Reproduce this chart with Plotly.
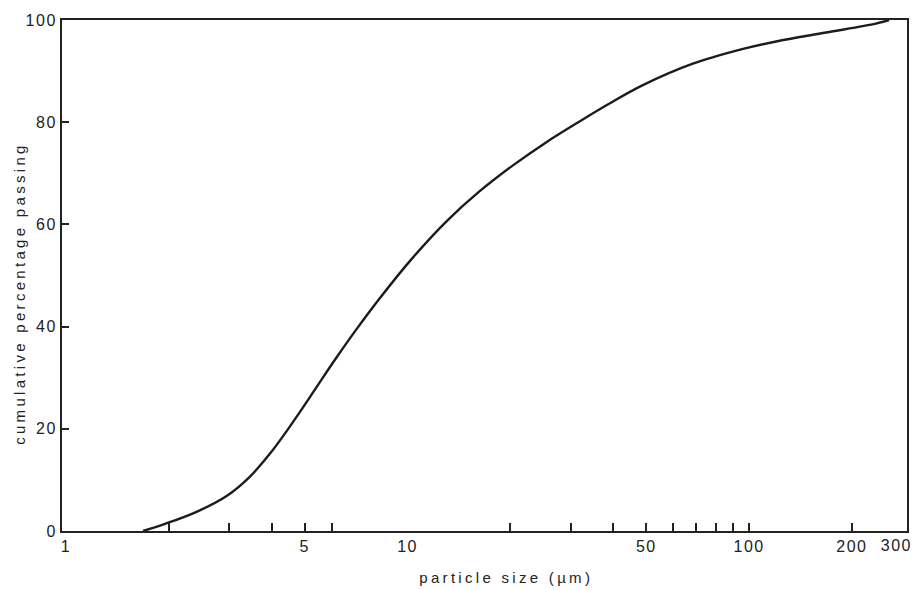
import math
import plotly.graph_objects as go

# particle size (µm) and cumulative percentage passing
size_um = [1.68, 1.95, 2.42, 2.96, 3.45, 3.95, 4.43, 4.93, 5.53, 6.20, 7.09, 8.28,
           10.3, 13.0, 16.2, 20.3, 25.5, 31.8, 38.9, 48.7, 68.1, 95.4, 120, 168, 235, 257]
passing = [0, 1.4, 3.8, 6.9, 10.6, 15.1, 19.6, 24.1, 29.1, 34.0, 39.5, 45.5,
           53.3, 60.6, 66.4, 71.5, 76.1, 80.1, 83.6, 87.2, 91.4, 94.3, 95.8, 97.55, 99.3, 100]

x_label_vals = [1, 5, 10, 50, 100, 200, 300]
x_label_text = ["1", "5", "10", "50", "100", "200", "300"]
x_mark_vals = [2, 3, 4, 5, 6, 20, 30, 40, 50, 60, 70, 80, 90, 100, 200]
y_tick_vals = [0, 20, 40, 60, 80, 100]
y_tick_text = ["0", "20", "40", "60", "80", "100"]

x_title = "particle size (µm)"
y_title = "cumulative percentage passing"

INK = "#222222"
FONT = "Liberation Sans, Arial, sans-serif"

X_MIN, X_MAX = 0.973, 290.0
# the last label (300) sits at the right frame edge; the rest are ordinary tick labels
in_range = [(v, t) for v, t in zip(x_label_vals, x_label_text) if v <= X_MAX]
edge = [(v, t) for v, t in zip(x_label_vals, x_label_text) if v > X_MAX]

fig = go.Figure()
fig.add_trace(go.Scatter(
    x=size_um, y=passing, mode="lines",
    line=dict(color="#1c1c1c", width=2.4, shape="spline", smoothing=1.0),
    hoverinfo="skip", showlegend=False,
))

annotations = [
    dict(text=x_title, xref="paper", yref="paper", x=0.526, y=-0.0916,
         xanchor="center", yanchor="middle", showarrow=False,
         font=dict(family=FONT, size=15, color=INK)),
    dict(text=y_title, xref="paper", yref="paper", x=-0.0496, y=0.464,
         xanchor="center", yanchor="middle", showarrow=False, textangle=-90,
         font=dict(family=FONT, size=15, color=INK)),
]
for v, t in edge:
    annotations.append(dict(text=t, xref="paper", yref="paper", x=1.0, y=0,
                            xanchor="center", yanchor="top", yshift=-4, xshift=-11,
                            showarrow=False, font=dict(family=FONT, size=16, color=INK)))

fig.update_layout(
    width=921, height=590, autosize=False,
    margin=dict(l=62, r=13, t=18, b=59),
    paper_bgcolor="white", plot_bgcolor="white",
    font=dict(family=FONT, size=16, color=INK),
    xaxis=dict(
        type="log", range=[math.log10(X_MIN), math.log10(X_MAX)],
        tickmode="array", tickvals=[v for v, _ in in_range], ticktext=[t for _, t in in_range],
        ticks="", showgrid=False, zeroline=False,
        showline=True, linecolor=INK, linewidth=2, mirror=True,
        tickfont=dict(family=FONT, size=16, color=INK),
        minor=dict(tickmode="array", tickvals=x_mark_vals, ticks="inside",
                   ticklen=8, tickwidth=1.6, tickcolor=INK, showgrid=False),
    ),
    yaxis=dict(
        range=[0, 100], tickmode="array", tickvals=y_tick_vals, ticktext=y_tick_text,
        ticks="inside", ticklen=7, tickwidth=1.6, tickcolor=INK,
        showgrid=False, zeroline=False,
        showline=True, linecolor=INK, linewidth=2, mirror=True,
        tickfont=dict(family=FONT, size=16, color=INK),
    ),
    annotations=annotations,
)

post = """
document.body.style.margin='0';
document.querySelectorAll('.annotation-text').forEach(function(e){
  if (e.textContent.length > 4) { e.style.letterSpacing='3.3px'; } else { e.style.letterSpacing='1.5px'; }
});
document.querySelectorAll('.xtick text, .ytick text').forEach(function(e){e.style.letterSpacing='1.5px';});
"""

fig.write_html("out.html", post_script=post, config={"displayModeBar": False})
